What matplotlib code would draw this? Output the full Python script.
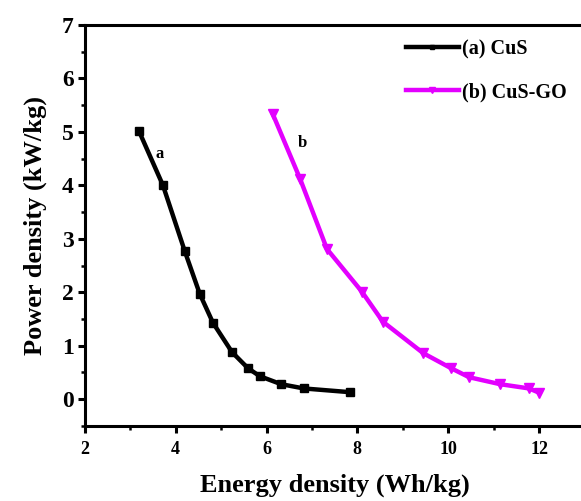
import matplotlib.pyplot as plt
from matplotlib.ticker import MultipleLocator

# (a) CuS
cus_energy = [3.19, 3.72, 4.20, 4.53, 4.82, 5.24, 5.59, 5.85, 6.32, 6.82, 7.84]
cus_power = [5.02, 4.00, 2.77, 1.97, 1.43, 0.88, 0.58, 0.43, 0.28, 0.20, 0.13]

# (b) CuS-GO
cusgo_energy = [6.14, 6.74, 7.33, 8.10, 8.56, 9.45, 10.06, 10.46, 11.14, 11.78, 12.00]
cusgo_power = [5.33, 4.12, 2.81, 2.01, 1.45, 0.86, 0.58, 0.41, 0.28, 0.20, 0.12]

plt.rcParams['font.family'] = ['Liberation Serif', 'DejaVu Serif']
plt.rcParams['font.weight'] = 'bold'

fig = plt.figure(figsize=(5.81, 5.01), dpi=100)
ax = fig.add_axes([0.146, 0.150, 0.86, 0.80])

ax.plot(cus_energy, cus_power, color='black', lw=3.2, marker='s', ms=5.5,
        label='(a) CuS')
ax.plot(cusgo_energy, cusgo_power, color='#e300ff', lw=3.2, marker='v', ms=6.5,
        label='(b) CuS-GO')

ax.text(3.65, 4.58, 'a', fontsize=12, fontweight='bold', ha='center', va='center')
ax.text(6.78, 4.80, 'b', fontsize=12, fontweight='bold', ha='center', va='center')

ax.set_xlim(2, 13)
ax.set_ylim(-0.5, 7)
ax.xaxis.set_major_locator(MultipleLocator(2))
ax.xaxis.set_minor_locator(MultipleLocator(1))
ax.yaxis.set_major_locator(MultipleLocator(1))
ax.yaxis.set_minor_locator(MultipleLocator(0.5))

for s in ax.spines.values():
    s.set_linewidth(2.2)

ax.tick_params(which='major', direction='out', length=5, width=2.2)
ax.tick_params(which='minor', direction='out', length=3, width=1.8)
ax.tick_params(axis='x', labelsize=13, pad=6)
ax.tick_params(axis='y', labelsize=17, pad=3)
for lab in ax.get_xticklabels() + ax.get_yticklabels():
    lab.set_fontweight('bold')

ax.set_xlabel('Energy density (Wh/kg)', fontsize=19, fontweight='bold', labelpad=11)
ax.set_ylabel('Power density (kW/kg)', fontsize=19, fontweight='bold', labelpad=11)

ax.legend(loc='upper right', bbox_to_anchor=(1.0, 1.01), frameon=False,
          prop={'size': 14.5, 'weight': 'bold'}, handlelength=2.6,
          handletextpad=0.15, labelspacing=1.15, markerscale=0.6)

fig.savefig('out.png', dpi=100)
